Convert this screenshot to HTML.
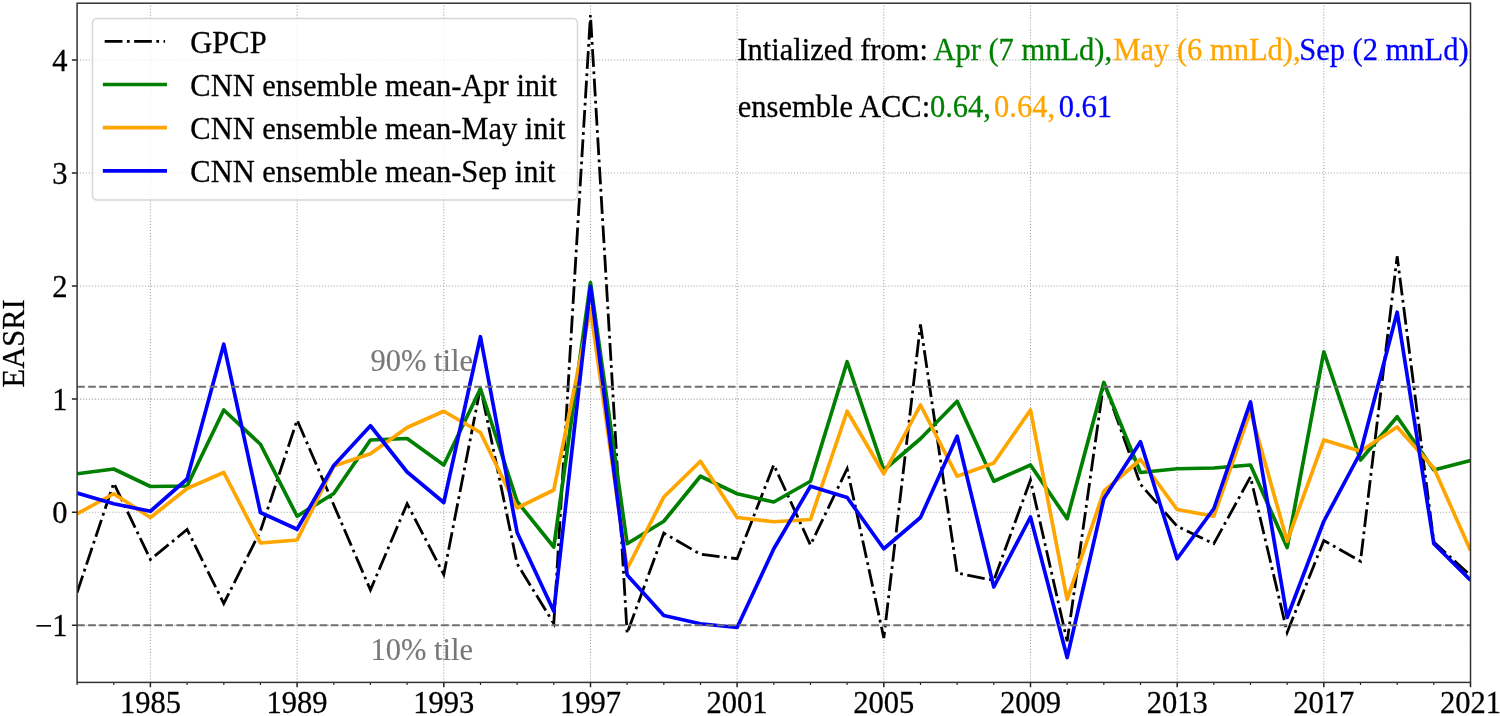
<!DOCTYPE html>
<html><head><meta charset="utf-8"><title>EASRI</title>
<style>html,body{margin:0;padding:0;background:#fff}svg{display:block}text{font-family:"Liberation Serif",serif;font-size:30.5px;fill:#000;stroke:#000;stroke-width:.28px}.g{fill:#008000;stroke:#008000}.o{fill:#ffa500;stroke:#ffa500}.b{fill:#0000ff;stroke:#0000ff}.y{fill:#787878;stroke:#787878;stroke-width:.15px}</style></head><body>
<svg width="1500" height="716" viewBox="0 0 1500 716">
<rect width="1500" height="716" fill="#fff"/>
<path d="M150.4 682.4V3.2M297.1 682.4V3.2M443.8 682.4V3.2M590.5 682.4V3.2M737.1 682.4V3.2M883.8 682.4V3.2M1030.5 682.4V3.2M1177.2 682.4V3.2M1323.8 682.4V3.2M1470.5 682.4V3.2M77.1 625.3H1470.5M77.1 512.2H1470.5M77.1 399.1H1470.5M77.1 286.0H1470.5M77.1 173.0H1470.5M77.1 59.9H1470.5" fill="none" stroke="#a6a6a6" stroke-width="1.05" stroke-dasharray="1.1 1.85"/>
<clipPath id="c"><rect x="77.1" y="3.2" width="1393.4" height="679.2"/></clipPath>
<g clip-path="url(#c)" fill="none" stroke-linejoin="round">
<polyline points="77.10,592.50 113.77,483.00 150.44,559.50 187.11,529.50 223.77,603.50 260.44,531.00 297.11,420.00 333.78,505.00 370.45,590.00 407.12,503.70 443.78,574.50 480.45,387.40 517.12,563.75 553.79,623.50 590.46,15.00 627.13,633.30 663.79,533.00 700.46,554.25 737.13,558.75 773.80,464.80 810.47,545.00 847.14,468.75 883.81,638.00 920.47,324.50 957.14,573.00 993.81,580.40 1030.48,480.00 1067.15,641.25 1103.82,382.30 1140.48,484.30 1177.15,526.25 1213.82,543.75 1250.49,476.90 1287.16,632.40 1323.83,540.50 1360.49,561.25 1397.16,256.30 1433.83,542.00 1470.50,575.50" stroke="#000" stroke-width="2.8" stroke-linejoin="miter" stroke-miterlimit="4" stroke-dasharray="17.76 4.45 2.77 4.45"/>
<polyline points="77.10,473.75 113.77,469.00 150.44,486.50 187.11,486.00 223.77,410.00 260.44,444.25 297.11,516.25 333.78,493.50 370.45,440.00 407.12,438.50 443.78,465.00 480.45,388.75 517.12,501.50 553.79,547.00 590.46,282.60 627.13,543.75 663.79,521.25 700.46,476.25 737.13,493.75 773.80,502.00 810.47,481.25 847.14,361.75 883.81,470.00 920.47,438.75 957.14,401.25 993.81,481.25 1030.48,465.00 1067.15,518.75 1103.82,382.50 1140.48,472.50 1177.15,468.75 1213.82,468.00 1250.49,465.00 1287.16,547.50 1323.83,351.75 1360.49,460.00 1397.16,416.75 1433.83,470.00 1470.50,460.50" stroke="#008000" stroke-width="3.7"/>
<polyline points="77.10,513.80 113.77,493.75 150.44,517.50 187.11,488.50 223.77,472.50 260.44,543.00 297.11,540.00 333.78,466.00 370.45,453.75 407.12,427.50 443.78,411.25 480.45,432.50 517.12,508.00 553.79,490.00 590.46,308.50 627.13,568.75 663.79,497.00 700.46,461.25 737.13,517.50 773.80,521.75 810.47,519.50 847.14,411.25 883.81,473.75 920.47,405.00 957.14,476.25 993.81,463.00 1030.48,410.00 1067.15,599.50 1103.82,491.25 1140.48,459.50 1177.15,509.50 1213.82,516.25 1250.49,411.00 1287.16,541.25 1323.83,440.00 1360.49,451.25 1397.16,427.00 1433.83,468.00 1470.50,550.50" stroke="#ffa500" stroke-width="3.7"/>
<polyline points="77.10,493.00 113.77,503.75 150.44,511.25 187.11,479.00 223.77,344.25 260.44,512.50 297.11,529.25 333.78,465.50 370.45,425.75 407.12,472.00 443.78,502.50 480.45,336.75 517.12,532.50 553.79,611.25 590.46,286.30 627.13,575.00 663.79,615.50 700.46,623.75 737.13,627.50 773.80,548.75 810.47,486.25 847.14,497.50 883.81,548.75 920.47,517.50 957.14,436.25 993.81,587.00 1030.48,517.00 1067.15,657.50 1103.82,498.75 1140.48,441.75 1177.15,558.75 1213.82,508.75 1250.49,401.90 1287.16,617.50 1323.83,521.25 1360.49,452.50 1397.16,312.20 1433.83,543.75 1470.50,580.20" stroke="#0000ff" stroke-width="3.7"/>
<path d="M77.1 386.7H1470.5" stroke="#707070" stroke-width="1.9" stroke-dasharray="7.7 3.33"/>
<path d="M77.1 625.3H1470.5" stroke="#707070" stroke-width="1.9" stroke-dasharray="7.7 3.33"/>
</g>
<text x="370.5" y="370.5" class="y">90% tile</text>
<text x="370.5" y="660.3" class="y">10% tile</text>
<text x="737.4" y="60.3">Intialized from:</text>
<text x="933.4" y="60.3" class="g">Apr (7 mnLd),</text>
<text x="1113.4" y="60.3" class="o">May (6 mnLd),</text>
<text x="1299.2" y="60.3" class="b">Sep (2 mnLd)</text>
<text x="737.8" y="116.7">ensemble ACC:</text>
<text x="929.9" y="116.7" class="g">0.64,</text>
<text x="994.1" y="116.7" class="o">0.64,</text>
<text x="1058.7" y="116.7" class="b">0.61</text>
<rect x="92.5" y="18.4" width="485" height="181.6" rx="4.5" fill="#fff" fill-opacity="0.8" stroke="#ccc" stroke-opacity="0.8" stroke-width="1.5"/>
<path d="M104.7 41.4H165.1" stroke="#000" stroke-width="2.8" stroke-dasharray="17.76 4.45 2.77 4.45" fill="none"/>
<path d="M104.7 84.5H165.1" stroke="#008000" stroke-width="3.7" stroke-linecap="square" fill="none"/>
<path d="M104.7 127.7H165.1" stroke="#ffa500" stroke-width="3.7" stroke-linecap="square" fill="none"/>
<path d="M104.7 170.9H165.1" stroke="#0000ff" stroke-width="3.7" stroke-linecap="square" fill="none"/>
<text x="190.3" y="52.5" font-size="30.7">GPCP</text>
<text x="190.3" y="95.6" font-size="30.7">CNN ensemble mean-Apr init</text>
<text x="190.3" y="138.8" font-size="30.7">CNN ensemble mean-May init</text>
<text x="190.3" y="182.0" font-size="30.7">CNN ensemble mean-Sep init</text>
<path d="M150.4 682.4v4.9M297.1 682.4v4.9M443.8 682.4v4.9M590.5 682.4v4.9M737.1 682.4v4.9M883.8 682.4v4.9M1030.5 682.4v4.9M1177.2 682.4v4.9M1323.8 682.4v4.9M1470.5 682.4v4.9M77.1 625.3h-5.2M77.1 512.2h-5.2M77.1 399.1h-5.2M77.1 286.0h-5.2M77.1 173.0h-5.2M77.1 59.9h-5.2" stroke="#222" stroke-width="1.5" fill="none"/>
<path d="M77.1 682.4v2.7M113.8 682.4v2.7M187.1 682.4v2.7M223.8 682.4v2.7M260.4 682.4v2.7M333.8 682.4v2.7M370.4 682.4v2.7M407.1 682.4v2.7M480.5 682.4v2.7M517.1 682.4v2.7M553.8 682.4v2.7M627.1 682.4v2.7M663.8 682.4v2.7M700.5 682.4v2.7M773.8 682.4v2.7M810.5 682.4v2.7M847.1 682.4v2.7M920.5 682.4v2.7M957.1 682.4v2.7M993.8 682.4v2.7M1067.1 682.4v2.7M1103.8 682.4v2.7M1140.5 682.4v2.7M1213.8 682.4v2.7M1250.5 682.4v2.7M1287.2 682.4v2.7M1360.5 682.4v2.7M1397.2 682.4v2.7M1433.8 682.4v2.7" stroke="#222" stroke-width="1.15" fill="none"/>
<rect x="77.1" y="3.2" width="1393.4" height="679.2" fill="none" stroke="#333" stroke-width="1.5"/>
<text x="150.4" y="713.2" text-anchor="middle">1985</text>
<text x="297.1" y="713.2" text-anchor="middle">1989</text>
<text x="443.8" y="713.2" text-anchor="middle">1993</text>
<text x="590.5" y="713.2" text-anchor="middle">1997</text>
<text x="737.1" y="713.2" text-anchor="middle">2001</text>
<text x="883.8" y="713.2" text-anchor="middle">2005</text>
<text x="1030.5" y="713.2" text-anchor="middle">2009</text>
<text x="1177.2" y="713.2" text-anchor="middle">2013</text>
<text x="1323.8" y="713.2" text-anchor="middle">2017</text>
<text x="1470.5" y="713.2" text-anchor="middle">2021</text>
<text x="67.5" y="636.0" text-anchor="end">−1</text>
<text x="67.5" y="522.9" text-anchor="end">0</text>
<text x="67.5" y="409.8" text-anchor="end">1</text>
<text x="67.5" y="296.7" text-anchor="end">2</text>
<text x="67.5" y="183.7" text-anchor="end">3</text>
<text x="67.5" y="70.6" text-anchor="end">4</text>
<text transform="translate(23.5 343.4) rotate(-90)" text-anchor="middle">EASRI</text>
</svg></body></html>
